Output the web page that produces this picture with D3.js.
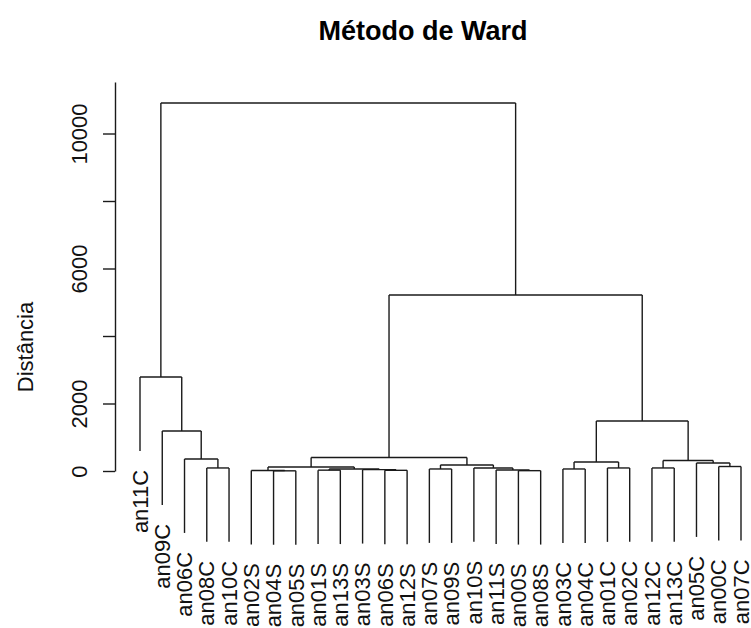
<!DOCTYPE html>
<html>
<head>
<meta charset="utf-8">
<script src="https://cdn.jsdelivr.net/npm/d3@7"></script>
<style>
  body { margin: 0; background: #fff; }
  text { font-family: "Liberation Sans", Arial, sans-serif; fill: #111; }
</style>
</head>
<body>
<div id="chart-area"></div>
<script>
/* DATA */
// leaves in plotted order
const leafLabels = ['an11C', 'an09C', 'an06C', 'an08C', 'an10C', 'an02S', 'an04S', 'an05S',
  'an01S', 'an13S', 'an03S', 'an06S', 'an12S', 'an07S', 'an09S', 'an10S', 'an11S', 'an00S',
  'an08S', 'an03C', 'an04C', 'an01C', 'an02C', 'an12C', 'an13C', 'an05C', 'an00C', 'an07C'];

// hclust style merges: negative = leaf (1-based position), positive = earlier merge step
const mergeA = [-7, -18, -6, -12, -9, -17, -11, -14, 5, -20, -4, -16, -22, -24, 3, -27, 8, -26, 10, 14, -3, 15, -2, 19, -1, 22, 25];
const mergeB = [-8, -19, 1, -13, -10, 2, 4, -15, 7, -21, -5, 6, -23, -25, 9, -28, 12, 16, 13, 18, 11, 17, 21, 20, 23, 24, 26];
const mergeHeight = [5, 10, 15, 20, 25, 30, 40, 60, 60, 60, 90, 90, 90, 90, 120, 133, 180, 237, 267, 311, 355, 400, 1185, 1481, 2785, 5215, 10904];

const yTicks = [0, 2000, 4000, 6000, 8000, 10000];
const yTickLabels = [0, 2000, 6000, 10000];
const hang = 2190;

/* LAYOUT */
const W = 751, H = 628;
const axisX = 115;

const svg = d3.select('#chart-area').append('svg')
  .attr('width', W).attr('height', H)
  .attr('viewBox', `0 0 ${W} ${H}`);

const x = d3.scaleLinear().domain([1, leafLabels.length]).range([140, 741]);
const y = d3.scaleLinear().domain([0, 11526]).range([471, 82]);

// node positions
const nodeX = [], nodeH = [];
const posOf = (id) => id < 0 ? x(-id) : nodeX[id - 1];

const segs = [];
mergeA.forEach((a, i) => {
  const b = mergeB[i];
  const h = mergeHeight[i];
  const xa = posOf(a), xb = posOf(b);
  const ha = a < 0 ? h - hang : mergeHeight[a - 1];
  const hb = b < 0 ? h - hang : mergeHeight[b - 1];
  segs.push([xa, y(ha), xa, y(h)]);
  segs.push([xa, y(h), xb, y(h)]);
  segs.push([xb, y(h), xb, y(hb)]);
  nodeX.push((xa + xb) / 2);
  nodeH.push(h);
});

svg.append('g')
  .selectAll('line')
  .data(segs)
  .join('line')
  .attr('x1', (d) => d[0]).attr('y1', (d) => d[1])
  .attr('x2', (d) => d[2]).attr('y2', (d) => d[3])
  .attr('stroke', '#1a1a1a')
  .attr('stroke-width', 1.4);

// leaf labels: find each leaf's parent height
const leafParent = new Array(leafLabels.length);
mergeA.forEach((a, i) => {
  if (a < 0) leafParent[-a - 1] = mergeHeight[i];
  if (mergeB[i] < 0) leafParent[-mergeB[i] - 1] = mergeHeight[i];
});

svg.append('g')
  .selectAll('text')
  .data(leafLabels)
  .join('text')
  .attr('transform', (d, i) => `translate(${x(i + 1)}, ${y(leafParent[i] - hang) + 19}) rotate(-90)`)
  .attr('text-anchor', 'end')
  .attr('dy', '0.35em')
  .style('font-size', '22px')
  .text((d) => d);

// y axis
const yAxis = d3.axisLeft(y)
  .tickValues(yTicks)
  .tickSize(12)
  .tickSizeOuter(0)
  .tickFormat((d) => yTickLabels.includes(d) ? d : '');

const gy = svg.append('g')
  .attr('transform', `translate(${axisX}, 0)`)
  .call(yAxis);
gy.select('.domain').attr('stroke', '#1a1a1a').attr('stroke-width', 1.4);
gy.selectAll('.tick line').attr('stroke', '#1a1a1a').attr('stroke-width', 1.4);
gy.selectAll('.tick text')
  .attr('x', null).attr('dy', null)
  .attr('text-anchor', 'middle')
  .attr('transform', 'translate(-28, 0) rotate(-90)')
  .style('font-size', '22px')
  .style('font-family', '"Liberation Sans", Arial, sans-serif')
  .attr('fill', '#111');

svg.append('text')
  .attr('transform', 'translate(33, 347) rotate(-90)')
  .attr('text-anchor', 'middle')
  .style('font-size', '22px')
  .text('Distância');

svg.append('text')
  .attr('x', 423).attr('y', 40)
  .attr('text-anchor', 'middle')
  .style('font-size', '27px')
  .style('font-weight', 'bold')
  .style('fill', '#000')
  .text('Método de Ward');
</script>
</body>
</html>
